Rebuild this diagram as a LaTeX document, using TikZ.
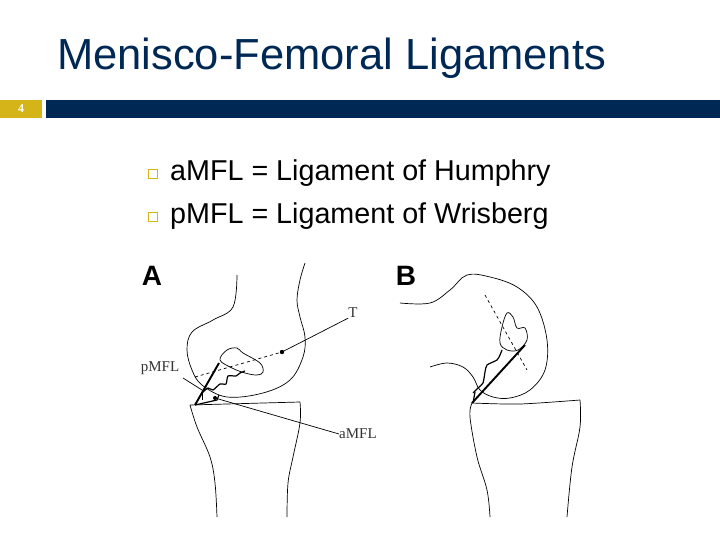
\documentclass[tikz,border=0pt]{standalone}
\usepackage{fontspec}
\setmainfont{Liberation Sans}
\newfontfamily\tms{Liberation Serif}
\definecolor{navy}{HTML}{002855}
\definecolor{gold}{HTML}{D4B418}
\tikzset{bone/.style={line width=0.7pt},lig/.style={line width=1.9pt},
 lbl/.style={font=\tms\fontsize{15}{15}\selectfont,inner sep=0pt,text=black!80},
 bul/.style={draw=gold,line width=1.3pt,minimum size=9pt,inner sep=0pt}}
\begin{document}
\begin{tikzpicture}[x=1pt,y=-1pt]
\useasboundingbox (0,0) rectangle (720,540);
\node[anchor=west,inner sep=0pt] (title) at (57,58) {\fontsize{43.5}{43.5}\selectfont\color{navy}Menisco-Femoral Ligaments};
\fill[gold] (0,100) rectangle (42,118);
\fill[navy] (46,100) rectangle (720,118);
\node (num) at (21,109) {\color{white}\tms\bfseries\fontsize{12}{12}\selectfont 4};
\node[bul] (b1) at (153,174) {};
\node[bul] (b2) at (153,217) {};
\node[anchor=west,inner sep=0pt] (t1) at (170,173) {\fontsize{28.7}{28.7}\selectfont aMFL = Ligament of Humphry};
\node[anchor=west,inner sep=0pt] (t2) at (170,216) {\fontsize{28.7}{28.7}\selectfont pMFL = Ligament of Wrisberg};
\node (A) at (152,276) {\bfseries\fontsize{28}{28}\selectfont A};
\node (B) at (406,276) {\bfseries\fontsize{28}{28}\selectfont B};
% Panel A femur
\draw[bone] plot[smooth,tension=0.6] coordinates {(237,275) (233,307) (213,320) (192,332) (187,350) (192,370) (202,385) (227,397) (263,393) (290,380) (303,357) (305,337) (300,317) (297,300) (300,280) (305,263)};
% tibia A
\draw[bone] (190,405) -- (300,402);
\draw[bone] plot[smooth,tension=0.6] coordinates {(190,405) (197,427) (210,457) (215,483) (217,517)};
\draw[bone] plot[smooth,tension=0.6] coordinates {(300,402) (300,423) (293,457) (288,483) (287,517)};
% meniscus A
\draw[bone] plot[smooth cycle,tension=0.6] coordinates {(220,360) (227,350) (237,348) (243,353) (260,363) (263,372) (257,375) (245,373) (232,368)};
\draw[lig] (195,405) -- (219,363);
\draw[line width=1.2pt] plot[smooth,tension=0.4] coordinates {(202,393) (208,388) (213,390) (220,384) (226,384) (228,376) (236,376) (240,373) (245,371)};
\draw[line width=1.2pt] (195,405) -- (217,400) -- (219,395);
\draw[bone] (202,392) -- (202,400);
\draw[bone,dashed] (195,377) -- (282,352);
\fill (282,352) circle (2.2pt);
\fill (215,398) circle (2pt);
\node[lbl] (T) at (353,313) {T};
\node[lbl] (pm) at (160,368) {pMFL};
\node[lbl,anchor=west] (am) at (339,434) {aMFL};
\draw[bone] (282,352) -- (T.south west);
\draw[bone] (183,378) -- (202,390);
\draw[bone] (215,398) -- (am.west);
% Panel B femur
\draw[bone] plot[smooth,tension=0.6] coordinates {(400,303) (430,303) (450,290) (467,275) (490,277) (517,287) (537,307) (547,340) (545,370) (530,390) (510,398) (493,397) (480,390) (473,377) (463,367) (447,363) (430,367)};
% tibia B
\draw[bone] plot[smooth,tension=0.5] coordinates {(472,403) (520,404) (580,400)};
\draw[bone] plot[smooth,tension=0.6] coordinates {(472,403) (470,417) (477,457) (487,490) (490,517)};
\draw[bone] plot[smooth,tension=0.6] coordinates {(580,400) (580,427) (572,467) (567,517)};
% meniscus B
\draw[bone] plot[smooth cycle,tension=0.6] coordinates {(507,313) (513,317) (517,328) (525,328) (527,340) (518,350) (507,350) (500,343) (502,327)};
\draw[bone,dashed] (485,295) -- (527,370);
\draw[lig] (472,403) -- (525,345);
\draw[line width=1.2pt] plot[smooth,tension=0.4] coordinates {(473,393) (478,388) (483,383) (485,372) (487,365) (497,360) (500,355) (502,350)};
\draw[line width=1.2pt] (473,403) -- (475,392);
\end{tikzpicture}
\end{document}
